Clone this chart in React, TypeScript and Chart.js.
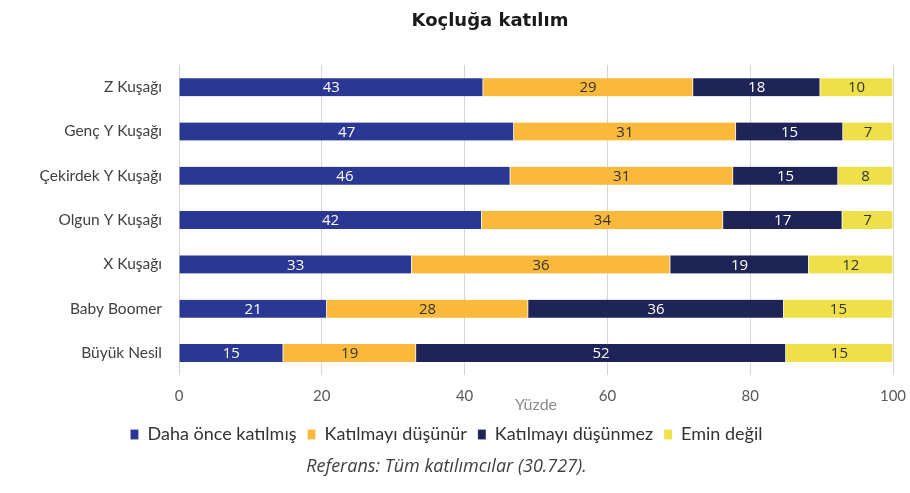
import { useEffect, useRef } from "react"
import { Chart, registerables } from "chart.js"

Chart.register(...registerables)

const generations = [
  "Z Kuşağı",
  "Genç Y Kuşağı",
  "Çekirdek Y Kuşağı",
  "Olgun Y Kuşağı",
  "X Kuşağı",
  "Baby Boomer",
  "Büyük Nesil",
]

// shares (labels are rounded)
const attended = [42.6, 46.9, 46.4, 42.4, 32.6, 20.7, 14.6]
const considering = [29.4, 31.1, 31.2, 33.8, 36.2, 28.2, 18.6]
const notConsidering = [17.8, 15.0, 14.7, 16.7, 19.4, 35.8, 51.8]
const unsure = [10.2, 7.0, 7.7, 7.1, 11.8, 15.3, 15.0]

const seriesNames = ["Daha önce katılmış", "Katılmayı düşünür", "Katılmayı düşünmez", "Emin değil"]
const seriesColors = ["#2A3894", "#FBB93C", "#1F2457", "#EFE04A"]
const labelColors = ["#ffffff", "#333333", "#ffffff", "#333333"]

const xTicks = [0, 20, 40, 60, 80, 100]

const chartTitle = "Koçluğa katılım"
const footnote = "Referans: Tüm katılımcılar (30.727)."

// draws the value in the middle of each segment + the title
const segmentLabels = {
  id: "segmentLabels",
  afterDatasetsDraw: (chart: Chart) => {
    const ctx = chart.ctx
    ctx.save()
    ctx.font = "500 15px 'Open Sans'"
    ctx.textAlign = "center"
    ctx.textBaseline = "middle"
    chart.data.datasets.forEach((ds, di) => {
      const meta = chart.getDatasetMeta(di)
      meta.data.forEach((bar: any, i) => {
        const v = ds.data[i] as number
        const cx = (bar.x + bar.base) / 2
        ctx.fillStyle = labelColors[di]
        ctx.fillText(String(Math.round(v)), cx, bar.y + 1)
      })
    })
    ctx.restore()
  },
  afterDraw: (chart: Chart) => {
    const ctx = chart.ctx
    ctx.save()
    ctx.font = "bold 18px 'DejaVu Sans'"
    ctx.fillStyle = "#1a1a1a"
    ctx.textAlign = "center"
    ctx.textBaseline = "middle"
    ctx.fillText(chartTitle, 490, 21)
    ctx.restore()
  },
}

export default function App() {
  const canvasRef = useRef<HTMLCanvasElement>(null)

  useEffect(() => {
    document.body.style.margin = "0"
    if (!canvasRef.current) return
    const all = [attended, considering, notConsidering, unsure]
    const chart = new Chart(canvasRef.current, {
      type: "bar",
      data: {
        labels: generations,
        datasets: all.map((values, i) => ({
          label: seriesNames[i],
          data: values,
          backgroundColor: seriesColors[i],
          borderColor: "rgba(255,255,255,0.7)",
          borderWidth: { left: 0, right: 1, top: 0, bottom: 0 },
          borderSkipped: false,
          barThickness: 18,
        })),
      },
      options: {
        indexAxis: "y",
        animation: false,
        responsive: true,
        maintainAspectRatio: false,
        layout: { padding: { top: 65, right: 17, left: 0, bottom: 15 } },
        scales: {
          x: {
            stacked: true,
            min: 0,
            max: 100,
            afterBuildTicks: (axis: any) => {
              axis.ticks = xTicks.map((v) => ({ value: v }))
            },
            afterFit: (axis: any) => {
              axis.paddingRight = 0
              axis.paddingLeft = 0
            },
            grid: { color: "#d6d6d6", drawTicks: false },
            border: { display: false },
            ticks: {
              color: "#595959",
              font: { family: "Lato", size: 15 },
              padding: 12,
            },
            title: {
              display: true,
              text: "Yüzde",
              color: "#8a8a8a",
              font: { family: "Lato", size: 16 },
              padding: { top: -22, bottom: 0 },
            },
          },
          y: {
            stacked: true,
            grid: { display: false },
            border: { display: false },
            afterFit: (axis: any) => {
              axis.width = 179
            },
            ticks: {
              color: "#404040",
              font: { family: "Lato", size: 15.5 },
              padding: 9,
            },
          },
        },
        plugins: {
          tooltip: { enabled: false },
          legend: {
            position: "bottom",
            labels: {
              boxWidth: 8,
              boxHeight: 10,
              padding: 11,
              color: "#333333",
              font: { family: "Lato", size: 18 },
            },
          },
          subtitle: {
            display: true,
            position: "bottom",
            text: footnote,
            color: "#404040",
            font: { family: "Open Sans", size: 18, style: "italic" },
            padding: { top: 3, bottom: 0 },
          },
        },
      },
      plugins: [segmentLabels],
    } as any)
    return () => chart.destroy()
  }, [])

  return (
    <div style={{ width: 910, height: 493, position: "relative" }}>
      <canvas ref={canvasRef} />
    </div>
  )
}
